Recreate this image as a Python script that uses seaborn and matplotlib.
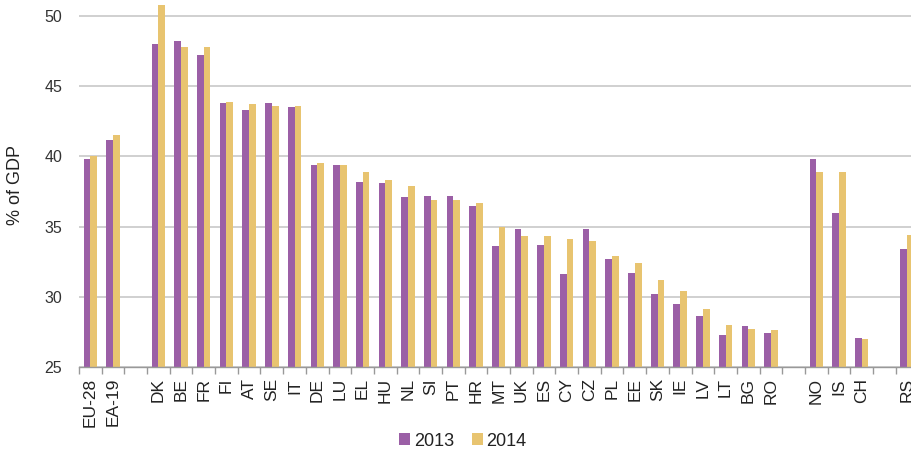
import numpy as np
import pandas as pd
import matplotlib
matplotlib.use("Agg")
import matplotlib.pyplot as plt
import seaborn as sns
from matplotlib.patches import Patch

categories = ["EU-28", "EA-19", "gap1", "DK", "BE", "FR", "FI", "AT", "SE", "IT", "DE", "LU",
              "EL", "HU", "NL", "SI", "PT", "HR", "MT", "UK", "ES", "CY", "CZ", "PL", "EE",
              "SK", "IE", "LV", "LT", "BG", "RO", "gap2", "NO", "IS", "CH", "gap3", "RS"]
countries = ["EU-28", "EA-19", "DK", "BE", "FR", "FI", "AT", "SE", "IT", "DE", "LU",
             "EL", "HU", "NL", "SI", "PT", "HR", "MT", "UK", "ES", "CY", "CZ", "PL", "EE",
             "SK", "IE", "LV", "LT", "BG", "RO", "NO", "IS", "CH", "RS"]
values_2013 = [39.8, 41.2, 48.0, 48.2, 47.2, 43.8, 43.3, 43.8, 43.5, 39.4, 39.4,
               38.2, 38.1, 37.1, 37.2, 37.2, 36.5, 33.6, 34.8, 33.7, 31.6, 34.8, 32.7, 31.7,
               30.2, 29.5, 28.6, 27.3, 27.9, 27.4, 39.8, 36.0, 27.1, 33.4]
values_2014 = [40.0, 41.5, 50.8, 47.8, 47.8, 43.9, 43.7, 43.6, 43.6, 39.5, 39.4,
               38.9, 38.3, 37.9, 36.9, 36.9, 36.7, 35.0, 34.3, 34.3, 34.1, 34.0, 32.9, 32.4,
               31.2, 30.4, 29.1, 28.0, 27.7, 27.6, 38.9, 38.9, 27.0, 34.4]
years = ["2013", "2014"]
tick_labels = ["" if c.startswith("gap") else c for c in categories]

df = pd.DataFrame({
    "country": countries * 2,
    "year": [years[0]] * len(countries) + [years[1]] * len(countries),
    "value": values_2013 + values_2014,
})

purple = "#9B5FA6"
gold = "#E8C470"
palette = {years[0]: purple, years[1]: gold}

sns.set_theme(style="white")
plt.rcParams["font.family"] = ["Liberation Sans", "DejaVu Sans"]

W, H = 911, 451
fig = plt.figure(figsize=(W / 100, H / 100), dpi=100)
ax_left = 79 / W
ax_w = 839.4 / W
ax_bottom = (H - 367) / H
ax_h = 367 / H
ax = fig.add_axes([ax_left, ax_bottom, ax_w, ax_h])

sns.barplot(data=df, x="country", y="value", hue="year", order=categories,
            hue_order=years, palette=palette, width=0.59, saturation=1,
            linewidth=0, ax=ax, legend=False)

ymin = 25
ymax = 25 + 367 / 14.04
ax.set_ylim(ymin, ymax)
ax.set_xlim(-0.5, len(categories) - 0.5)
ax.set_yticks([25, 30, 35, 40, 45, 50])
ax.tick_params(axis="y", length=0, pad=12, labelsize=11.5, labelcolor="#333333")
ax.yaxis.grid(True, color="#C8C8C8", linewidth=1.2)
ax.set_axisbelow(True)

ax.set_xticks(np.arange(-0.5, len(categories), 1))
ax.set_xticklabels([])
ax.tick_params(axis="x", which="major", length=5, width=1, color="#999999", direction="out", bottom=True)
ax.set_xticks(np.arange(len(categories)), minor=True)
ax.set_xticklabels(tick_labels, minor=True, rotation=90, fontsize=12.5, color="#222222")
ax.tick_params(axis="x", which="minor", length=0, pad=8, bottom=True)

for s in ["top", "right", "left"]:
    ax.spines[s].set_visible(False)
ax.spines["bottom"].set_color("#999999")
ax.spines["bottom"].set_linewidth(1)
ax.set_xlabel("")
ax.set_ylabel("")

fig.text(15 / W, 1 - 185 / H, "% of GDP", rotation=90, ha="center", va="center",
         fontsize=13, color="#222222")

handles = [Patch(facecolor=palette[y], edgecolor="none", label=y) for y in years]
fig.legend(handles=handles, loc="center", bbox_to_anchor=(463 / W, 1 - 441 / H),
           ncol=2, frameon=False, fontsize=13, handlelength=0.6, handleheight=0.6,
           handletextpad=0.2, columnspacing=1.0, labelcolor="#222222")

fig.savefig("out.png", dpi=100)
